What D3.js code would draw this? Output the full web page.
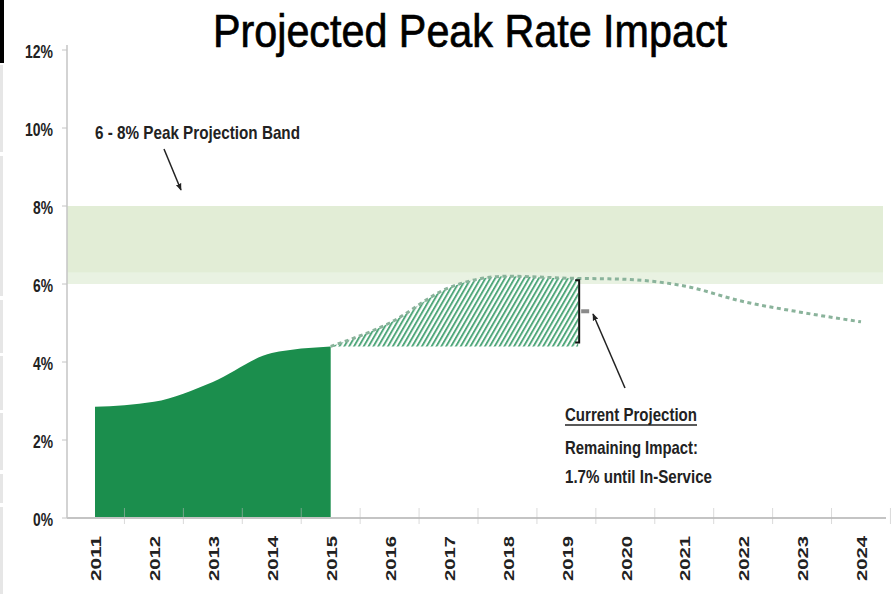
<!DOCTYPE html>
<html>
<head>
<meta charset="utf-8">
<script src="https://cdn.jsdelivr.net/npm/d3@7"></script>
<style>
  html, body { margin: 0; padding: 0; background: #fff; }
  svg { display: block; }
  text { font-family: "Liberation Sans Narrow", "Arial Narrow", "Liberation Sans", Arial, sans-serif; }
</style>
</head>
<body>
<svg id="chart" width="893" height="594"></svg>
<script>
// Years on the category axis
const years = [2011, 2012, 2013, 2014, 2015, 2016, 2017, 2018, 2019, 2020, 2021, 2022, 2023, 2024];
// Rate impact already realised (%), solid area
const actualYears  = [2011, 2012, 2013, 2014, 2015];
const actualValues = [2.85, 2.98, 3.49, 4.23, 4.4];
// Projected rate impact (%), dotted line
const projYears  = [2015, 2016, 2017, 2018, 2019, 2020, 2021, 2022, 2023, 2024];
const projValues = [4.4, 5.0, 5.9, 6.2, 6.15, 6.12, 5.95, 5.55, 5.27, 5.03];
// Remaining impact until in-service (hatched area)
const remainYears  = [2015, 2016, 2017, 2018, 2019, 2019.2];
const remainValues = [4.4, 5.0, 5.9, 6.2, 6.15, 6.15];
const remainBase = 4.4;
// Peak projection band (%)
const bandRange = [6, 8];
// Y tick values (%)
const yTicks = [0, 2, 4, 6, 8, 10, 12];

const svg = d3.select("#chart");
const plotLeft = 67, plotRight = 883;

const x = d3.scaleLinear().domain([2011, 2024]).range([95, 861]);
const y = d3.scaleLinear().domain([0, 12]).range([518, 50]);

// slide edge decorations
svg.append("rect").attr("x", 0).attr("y", 0).attr("width", 4).attr("height", 63).attr("fill", "#000");
[[65, 152], [156, 296], [300, 353], [356, 410], [413, 470], [474, 503], [507, 594]].forEach(([a, b]) => {
  svg.append("rect").attr("x", 0).attr("y", a).attr("width", 3).attr("height", b - a).attr("fill", "#e6e6e6");
});

// title
svg.append("text")
  .attr("x", 213).attr("y", 47)
  .attr("textLength", 514).attr("lengthAdjust", "spacingAndGlyphs")
  .attr("font-size", 46).attr("fill", "#000")
  .attr("stroke", "#000").attr("stroke-width", 0.7)
  .text("Projected Peak Rate Impact");

// band
svg.append("rect")
  .attr("x", plotLeft).attr("width", plotRight - plotLeft)
  .attr("y", y(bandRange[1])).attr("height", y(bandRange[0]) - y(bandRange[1]))
  .attr("fill", "#e2edd6");
svg.append("rect")
  .attr("x", plotLeft).attr("width", plotRight - plotLeft)
  .attr("y", y(bandRange[0] + 0.3)).attr("height", y(bandRange[0]) - y(bandRange[0] + 0.3))
  .attr("fill", "#e9f2e2");

// hatch pattern
const defs = svg.append("defs");
const pat = defs.append("pattern")
  .attr("id", "hatch").attr("patternUnits", "userSpaceOnUse")
  .attr("width", 4.2).attr("height", 4.2)
  .attr("patternTransform", "rotate(30)");
pat.append("rect").attr("width", 4.2).attr("height", 4.2).attr("fill", "#fff");
pat.append("line").attr("x1", 1).attr("y1", 0).attr("x2", 1).attr("y2", 4.2)
  .attr("stroke", "#4aa476").attr("stroke-width", 1.9);

const marker = defs.append("marker")
  .attr("id", "arrow").attr("viewBox", "0 0 10 10")
  .attr("refX", 9).attr("refY", 5)
  .attr("markerWidth", 7).attr("markerHeight", 7)
  .attr("markerUnits", "userSpaceOnUse")
  .attr("orient", "auto");
marker.append("path").attr("d", "M0,1 L10,5 L0,9 z").attr("fill", "#222");

// hatched remaining impact
const remainArea = d3.area()
  .x((d, i) => x(remainYears[i]))
  .y0(y(remainBase))
  .y1(d => y(d))
  .curve(d3.curveMonotoneX);
svg.append("path").datum(remainValues)
  .attr("d", remainArea).attr("fill", "url(#hatch)");

// actual area
const actualArea = d3.area()
  .x((d, i) => x(actualYears[i]))
  .y0(y(0))
  .y1(d => y(d))
  .curve(d3.curveMonotoneX);
svg.append("path").datum(actualValues)
  .attr("d", actualArea).attr("fill", "#1b8e4d");

// projection dotted line
const projLine = d3.line()
  .x((d, i) => x(projYears[i]))
  .y(d => y(d))
  .curve(d3.curveMonotoneX);
svg.append("path").datum(projValues)
  .attr("d", projLine).attr("fill", "none")
  .attr("stroke", "#8ab39b").attr("stroke-width", 3)
  .attr("stroke-dasharray", "4,3.5");

// y axis
svg.append("line").attr("x1", plotLeft).attr("x2", plotLeft)
  .attr("y1", y(12) - 5).attr("y2", y(0)).attr("stroke", "#c4c4c4").attr("stroke-width", 1.5);
yTicks.forEach(t => {
  svg.append("line").attr("x1", plotLeft - 5).attr("x2", plotLeft)
    .attr("y1", y(t)).attr("y2", y(t)).attr("stroke", "#c4c4c4");
  svg.append("text")
    .attr("x", 53).attr("y", y(t) + 1).attr("dy", "0.35em")
    .attr("text-anchor", "end").attr("font-weight", "bold").attr("font-size", 19)
    .attr("textLength", t >= 10 ? 28 : 20).attr("lengthAdjust", "spacingAndGlyphs")
    .attr("fill", "#222")
    .text(t + "%");
});

// x axis
svg.append("line").attr("x1", plotLeft).attr("x2", plotRight + 3)
  .attr("y1", y(0)).attr("y2", y(0)).attr("stroke", "#c4c4c4").attr("stroke-width", 2);
const step = x(2012) - x(2011);
years.forEach(yr => {
  const bx = x(yr) + step / 2;
  svg.append("line").attr("x1", bx).attr("x2", bx)
    .attr("y1", y(0) - 10).attr("y2", y(0) + 6)
    .attr("stroke", "#bbbbbb").attr("stroke-opacity", 0.55);
  svg.append("text")
    .attr("transform", `translate(${x(yr) + 1},536) rotate(-90)`)
    .attr("text-anchor", "end").attr("dy", "0.35em")
    .attr("font-weight", "bold").attr("font-size", 15)
    .attr("textLength", 45).attr("lengthAdjust", "spacingAndGlyphs")
    .attr("fill", "#222")
    .text(yr);
});

// band label and arrow
svg.append("text")
  .attr("x", 95).attr("y", 139)
  .attr("font-weight", "bold").attr("font-size", 19)
  .attr("textLength", 205).attr("lengthAdjust", "spacingAndGlyphs")
  .attr("fill", "#222")
  .text("6 - 8% Peak Projection Band");
svg.append("line")
  .attr("x1", 164).attr("y1", 149).attr("x2", 181).attr("y2", 190)
  .attr("stroke", "#222").attr("stroke-width", 1.5).attr("marker-end", "url(#arrow)");

// bracket spanning the remaining impact
const bx = x(2019.2) + 1;
const bTop = y(remainValues[remainValues.length - 1]) + 2;
const bBot = y(remainBase) - 4;
svg.append("path")
  .attr("d", `M${bx - 4},${bTop} H${bx} V${bBot} H${bx - 4}`)
  .attr("fill", "none").attr("stroke", "#111").attr("stroke-width", 2);
svg.append("rect")
  .attr("x", bx + 2).attr("y", (bTop + bBot) / 2 - 2)
  .attr("width", 8).attr("height", 4).attr("fill", "#8a8a8a");

// annotation arrow
svg.append("line")
  .attr("x1", 625).attr("y1", 388).attr("x2", 593).attr("y2", 314)
  .attr("stroke", "#222").attr("stroke-width", 1.5).attr("marker-end", "url(#arrow)");

// annotation text
const note = [
  { t: "Current Projection", y: 421, w: 132, u: true },
  { t: "Remaining Impact:", y: 454, w: 133, u: false },
  { t: "1.7% until In-Service", y: 483, w: 147, u: false }
];
note.forEach(n => {
  svg.append("text")
    .attr("x", 565).attr("y", n.y)
    .attr("font-weight", "bold").attr("font-size", 19)
    .attr("textLength", n.w).attr("lengthAdjust", "spacingAndGlyphs")
    .attr("fill", "#222")
    .text(n.t);
  if (n.u) {
    svg.append("line").attr("x1", 565).attr("x2", 565 + n.w)
      .attr("y1", n.y + 4).attr("y2", n.y + 4)
      .attr("stroke", "#222").attr("stroke-width", 1.5);
  }
});
</script>
</body>
</html>
